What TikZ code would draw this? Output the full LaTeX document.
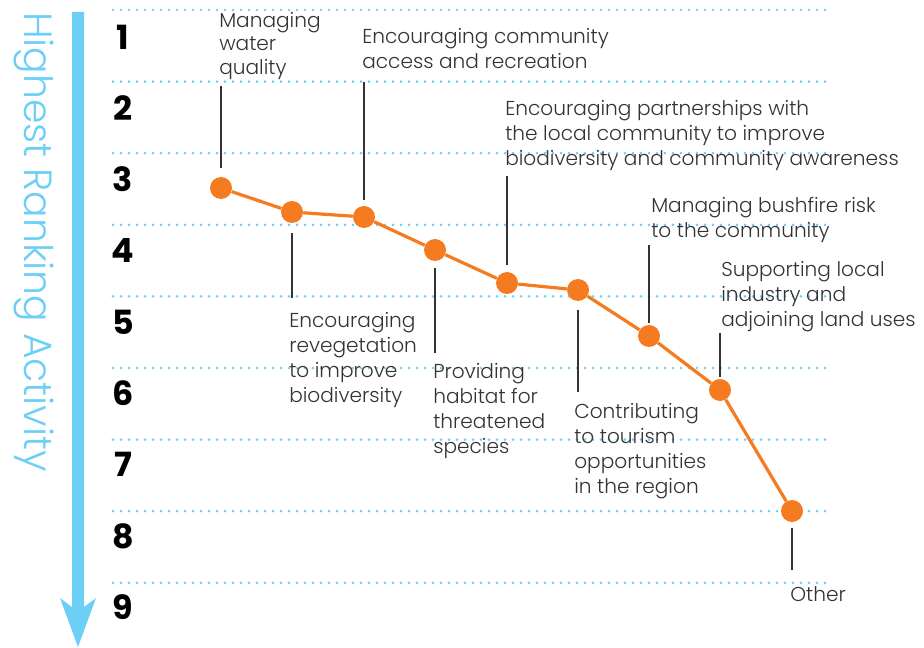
\documentclass[tikz,border=0pt]{standalone}
\usepackage{fontspec}
\setmainfont{Poppins}[UprightFont=* Light, BoldFont=* Bold]
\definecolor{rankblue}{HTML}{6CCFF6}
\definecolor{rankorange}{HTML}{F47B20}
\definecolor{leadgray}{HTML}{333333}

\tikzset{
    level/.style={rankblue, line width=2.2pt, line cap=round, dash pattern=on 0pt off 6pt},
    rank/.style={font=\bfseries\fontsize{25}{25}\selectfont, anchor=center},
    spot/.style={circle, fill=rankorange, inner sep=0pt, minimum size=16.5pt},
    activity/.style={anchor=north west, inner sep=0pt, align=left, text=leadgray,
        font=\fontsize{15.1}{18.75}\selectfont},
    leader/.style={leadgray, line width=1.1pt},
}

\begin{document}
\begin{tikzpicture}[x=0.75pt, y=-0.75pt]
    \useasboundingbox (0,0) rectangle (924,648);

    % rank lines and numbers
    \foreach \i in {1,...,9} {
        \draw[level] (113,{10+71.6*(\i-1)}) -- (828,{10+71.6*(\i-1)});
        \node[rank] (n\i) at (123,{37+71.3*(\i-1)}) {\i};
    }

    % arrow down the side
    \fill[rankblue] (72,12) -- (84,12) -- (84,607) -- (96,598) -- (78,647)
        -- (60,598) -- (72,607) -- cycle;
    \node[rankblue, rotate=-90, inner sep=0pt, font=\fontsize{29.5}{29.5}\selectfont]
        (axis) at (34,242) {Highest Ranking Activity};

    % ranked activities
    \node[spot] (p1) at (221,188) {};
    \node[spot] (p2) at (292,212) {};
    \node[spot] (p3) at (364,217) {};
    \node[spot] (p4) at (435,250) {};
    \node[spot] (p5) at (507,283) {};
    \node[spot] (p6) at (578,290) {};
    \node[spot] (p7) at (649,336) {};
    \node[spot] (p8) at (720,390) {};
    \node[spot] (p9) at (792,511) {};
    \draw[rankorange, line width=2.4pt] (p1) -- (p2) -- (p3) -- (p4) -- (p5)
        -- (p6) -- (p7) -- (p8) -- (p9);

    % labels
    \node[activity, font=\fontsize{15.1}{17.6}\selectfont] (l1) at (219,12) {Managing\\water\\quality};
    \node[activity] (l2) at (289,312) {Encouraging\\revegetation\\to improve\\biodiversity};
    \node[activity] (l3) at (362,28) {Encouraging community\\access and recreation};
    \node[activity] (l4) at (433,363) {Providing\\habitat for\\threatened\\species};
    \node[activity] (l5) at (505,100) {Encouraging partnerships with\\the local community to improve\\biodiversity and community awareness};
    \node[activity] (l6) at (574,403) {Contributing\\to tourism\\opportunities\\in the region};
    \node[activity] (l7) at (651,197) {Managing bushfire risk\\to the community};
    \node[activity] (l8) at (721,261) {Supporting local\\industry and\\adjoining land uses};
    \node[activity] (l9) at (790,586) {Other};

    % leader lines
    \foreach \p/\a/\b in {p1/-20/-82, p2/21/65, p3/-17/-118, p4/18/85, p5/-18/-89,
                          p6/20/82, p7/-13/-78, p8/-13/-44, p9/17/42}
        \draw[leader] (\p) ++(0,\a) -- ++(0,\b);
\end{tikzpicture}
\end{document}
